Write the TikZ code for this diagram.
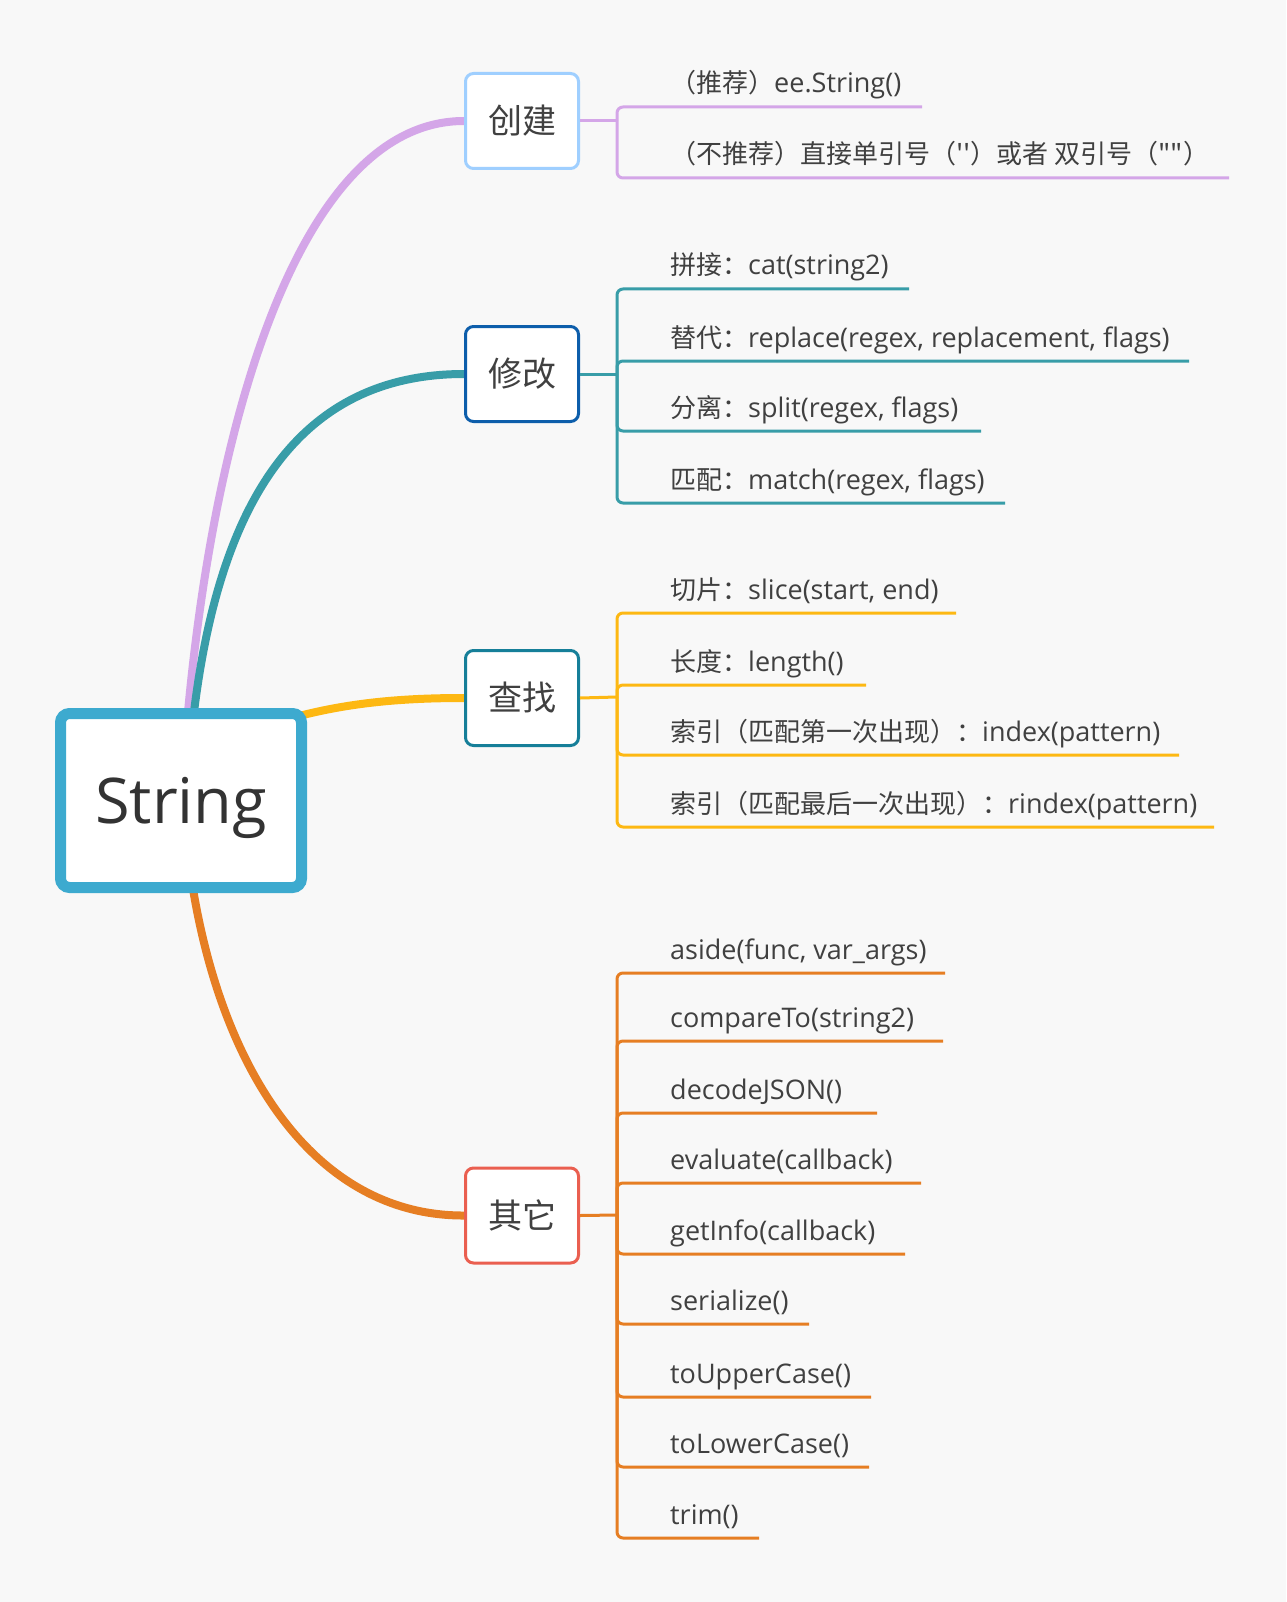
\documentclass[tikz,border=0pt]{standalone}
\usepackage{fontspec}
\setmainfont{Open Sans}[Ligatures=TeXOff]
\newfontfamily\cjk{Noto Sans CJK SC}[Ligatures=TeXOff]
\usetikzlibrary{positioning,backgrounds}
\newcommand{\zh}[1]{{\cjk\fontsize{26}{30}\selectfont #1}}
\definecolor{bgcol}{HTML}{F8F8F8}
\definecolor{txtcol}{HTML}{404040}
\definecolor{rootcol}{HTML}{3DAACF}
\definecolor{lilac}{HTML}{D4A6E8}
\definecolor{skyblue}{HTML}{9FCFFF}
\definecolor{tealcol}{HTML}{389DA8}
\definecolor{navycol}{HTML}{0D5EAB}
\definecolor{ambercol}{HTML}{FDB813}
\definecolor{petrol}{HTML}{167F99}
\definecolor{orangecol}{HTML}{E67E23}
\definecolor{redcol}{HTML}{EA5F50}

\begin{document}
\begin{tikzpicture}[x=1pt,y=-1pt,
    root/.style={draw=rootcol,line width=11pt,fill=white,rounded corners=9pt,minimum width=241pt,minimum height=174pt,text height=58pt,text depth=13pt,text=black!80,font=\fontsize{63}{70}\selectfont},
    topic/.style={draw,line width=3pt,fill=white,rounded corners=8pt,minimum width=113pt,minimum height=95pt,text=txtcol,font=\cjk\fontsize{34}{40}\selectfont},
    leaf/.style={anchor=base west,inner sep=0pt,text=txtcol,font=\fontsize{27}{30}\selectfont},
    limb/.style={line width=8pt},
    twig/.style={line width=3pt,rounded corners=6pt}]
    \begin{scope}[on background layer]
      \fill[bgcol] (0,0) rectangle (1286,1602);
    \end{scope}
    \useasboundingbox (0,0) rectangle (1286,1602);

    \node[root] (str) at (181,800.5) {String};
    \node[topic,draw=skyblue] (create) at (522,121) {创建};
    \node[topic,draw=navycol] (modify) at (522,374) {修改};
    \node[topic,draw=petrol] (find) at (522,698) {查找};
    \node[topic,draw=redcol] (other) at (522,1215.5) {其它};

    \begin{scope}[on background layer]
      \draw[limb,lilac] ([xshift=7pt,yshift=-4pt]str.north) .. controls (215,420) and (300,121) .. (create.west);
      \draw[limb,tealcol] ([xshift=13pt,yshift=-4pt]str.north) .. controls (220,500) and (300,374) .. (modify.west);
      \draw[limb,ambercol] ([xshift=-8pt,yshift=-8pt]str.north east) .. controls (350,703) and (400,698) .. (find.west);
      \draw[limb,orangecol] ([xshift=12pt,yshift=4pt]str.south) .. controls (225,1080) and (320,1216) .. (other.west);
    \end{scope}

    % create
    \coordinate (cj) at (617,121);
    \node[leaf] (c1) at (670,93) {\zh{（推荐）}ee.String()};
    \node[leaf] (c2) at (670,164) {\zh{（不推荐）直接单引号（''）或者 双引号（""）}};
    \coordinate (c1u) at (922,107);
    \coordinate (c2u) at (1229,178);
    \draw[twig,lilac] (create.east) -- (cj);
    \draw[twig,lilac] (cj) |- (c1u);
    \draw[twig,lilac] (cj) |- (c2u);

    % modify
    \coordinate (mj) at (617,374);
    \node[leaf] (m1) at (670,275) {\zh{拼接：}cat(string2)};
    \node[leaf] (m2) at (670,347) {\zh{替代：}replace(regex, replacement, flags)};
    \node[leaf] (m3) at (670,417) {\zh{分离：}split(regex, flags)};
    \node[leaf] (m4) at (670,489) {\zh{匹配：}match(regex, flags)};
    \coordinate (m1u) at (909,289);
    \coordinate (m2u) at (1189,361);
    \coordinate (m3u) at (981,431);
    \coordinate (m4u) at (1005,503);
    \draw[twig,tealcol] (modify.east) -- (mj);
    \draw[twig,tealcol] (mj) |- (m1u);
    \draw[twig,tealcol] (mj) |- (m2u);
    \draw[twig,tealcol] (mj) |- (m3u);
    \draw[twig,tealcol] (mj) |- (m4u);

    % find
    \coordinate (fj) at (617,697);
    \node[leaf] (f1) at (670,599) {\zh{切片：}slice(start, end)};
    \node[leaf] (f2) at (670,671) {\zh{长度：}length()};
    \node[leaf] (f3) at (670,741) {\zh{索引（匹配第一次出现）：}index(pattern)};
    \node[leaf] (f4) at (670,813) {\zh{索引（匹配最后一次出现）：}rindex(pattern)};
    \coordinate (f1u) at (956,613);
    \coordinate (f2u) at (866,685);
    \coordinate (f3u) at (1179,755);
    \coordinate (f4u) at (1214,827);
    \draw[twig,ambercol] (find.east) -- (fj);
    \draw[twig,ambercol] (fj) |- (f1u);
    \draw[twig,ambercol] (fj) |- (f2u);
    \draw[twig,ambercol] (fj) |- (f3u);
    \draw[twig,ambercol] (fj) |- (f4u);

    % other
    \coordinate (oj) at (617,1215);
    \node[leaf] (o1) at (670,959) {aside(func, var\_args)};
    \node[leaf] (o2) at (670,1027) {compareTo(string2)};
    \node[leaf] (o3) at (670,1099) {decodeJSON()};
    \node[leaf] (o4) at (670,1169) {evaluate(callback)};
    \node[leaf] (o5) at (670,1240) {getInfo(callback)};
    \node[leaf] (o6) at (670,1310) {serialize()};
    \node[leaf] (o7) at (670,1383) {toUpperCase()};
    \node[leaf] (o8) at (670,1453) {toLowerCase()};
    \node[leaf] (o9) at (670,1524) {trim()};
    \coordinate (o1u) at (945,973);
    \coordinate (o2u) at (943,1041);
    \coordinate (o3u) at (877,1113);
    \coordinate (o4u) at (921,1183);
    \coordinate (o5u) at (905,1254);
    \coordinate (o6u) at (809,1324);
    \coordinate (o7u) at (871,1397);
    \coordinate (o8u) at (869,1467);
    \coordinate (o9u) at (759,1538);
    \draw[twig,orangecol] (other.east) -- (oj);
    \draw[twig,orangecol] (oj) |- (o1u);
    \draw[twig,orangecol] (oj) |- (o2u);
    \draw[twig,orangecol] (oj) |- (o3u);
    \draw[twig,orangecol] (oj) |- (o4u);
    \draw[twig,orangecol] (oj) |- (o5u);
    \draw[twig,orangecol] (oj) |- (o6u);
    \draw[twig,orangecol] (oj) |- (o7u);
    \draw[twig,orangecol] (oj) |- (o8u);
    \draw[twig,orangecol] (oj) |- (o9u);
\end{tikzpicture}
\end{document}
